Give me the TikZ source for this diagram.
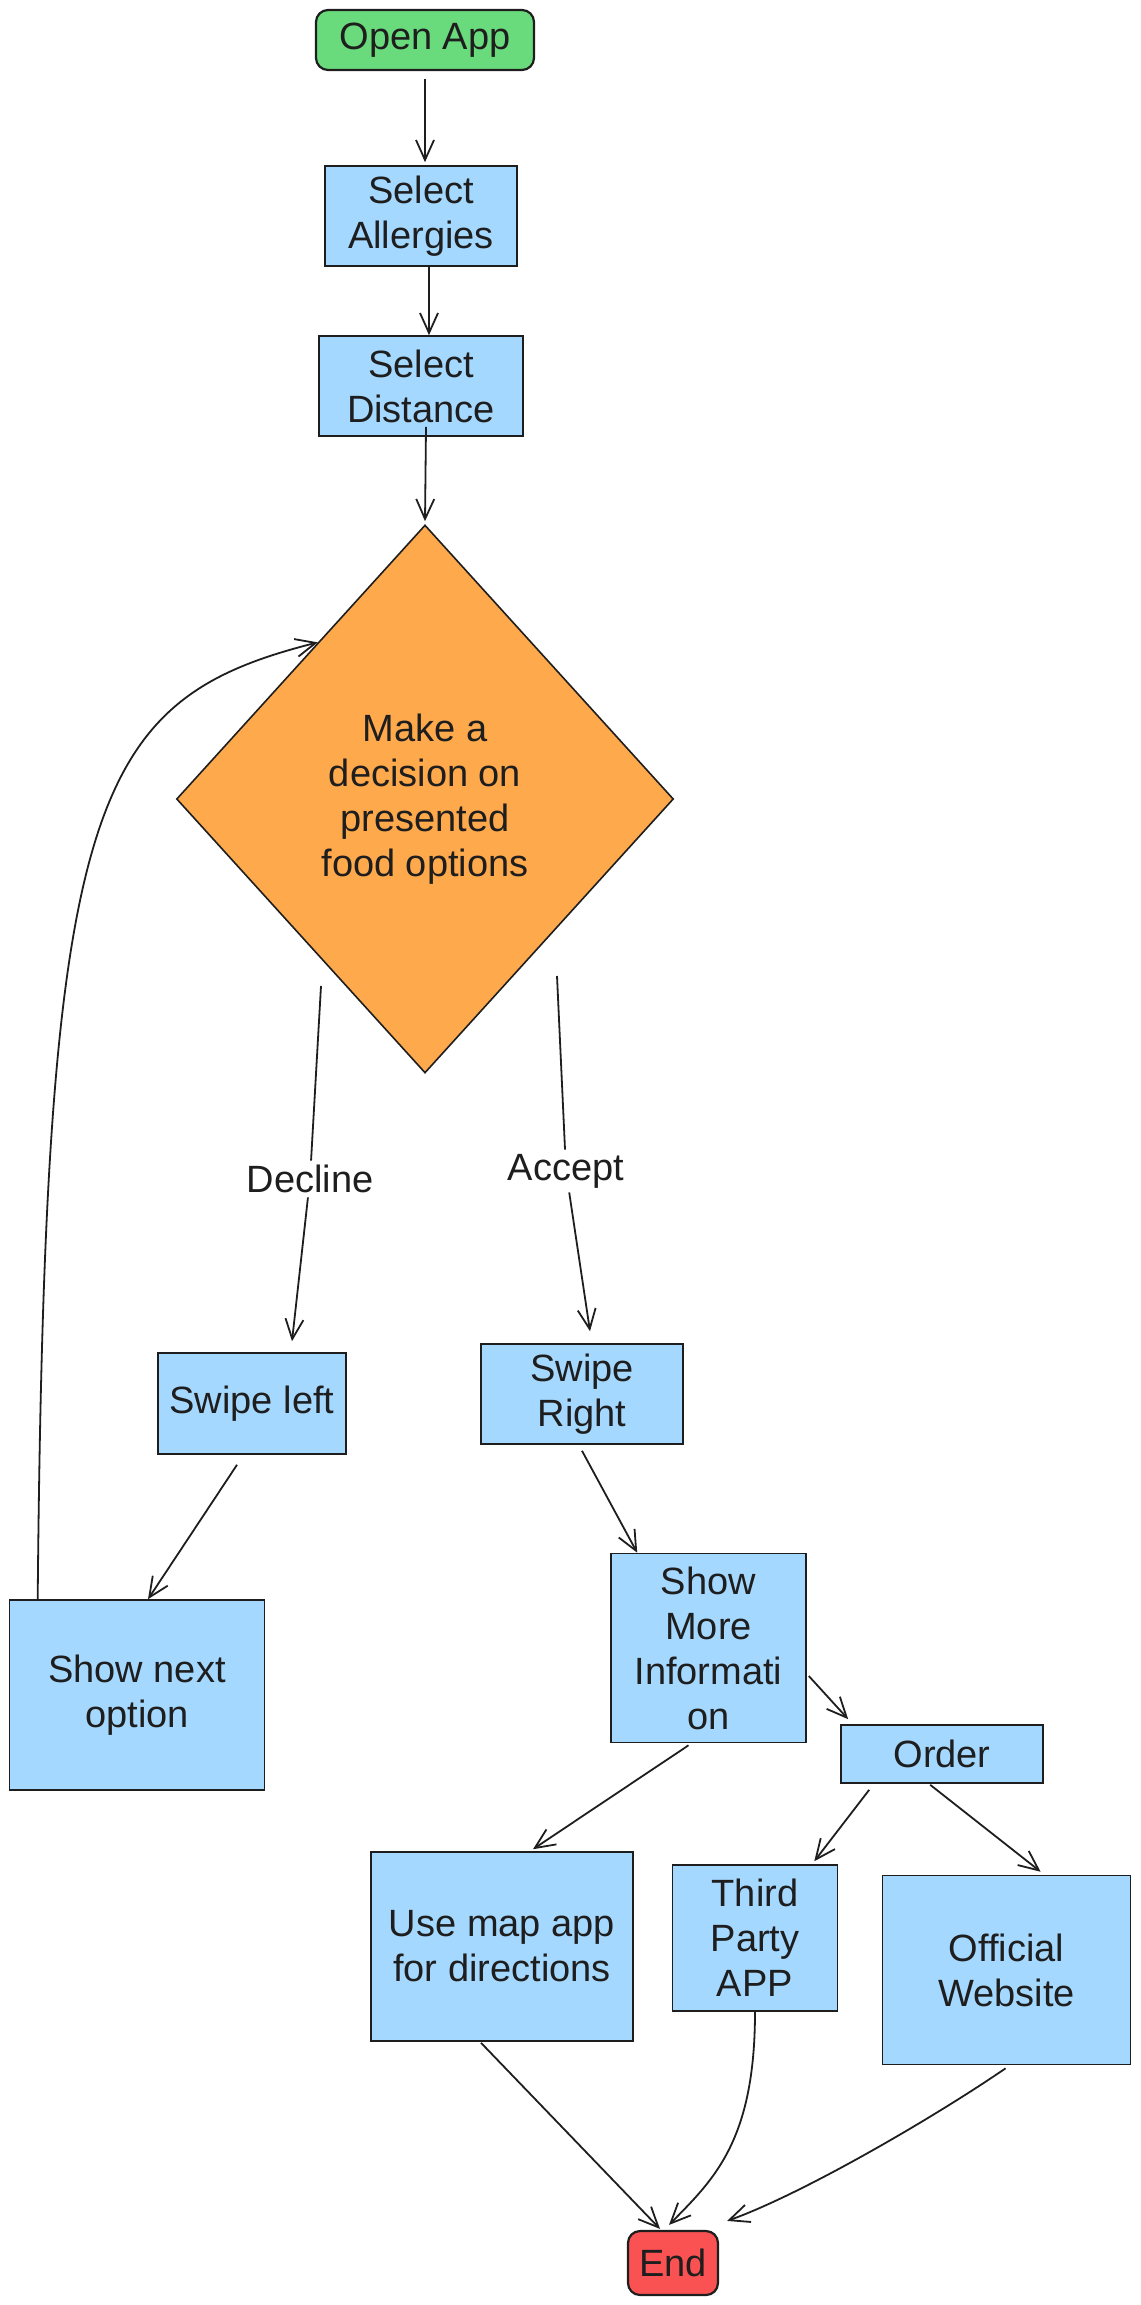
\documentclass[tikz,border=0pt]{standalone}
\usepackage{fontspec}
\setmainfont{Liberation Sans}
\usetikzlibrary{calc,positioning,arrows.meta,shapes.geometric}
\definecolor{vert}{HTML}{69DB7C}
\definecolor{bleu}{HTML}{A5D8FF}
\definecolor{orange}{HTML}{FFA94D}
\definecolor{rouge}{HTML}{FA5252}
\definecolor{trait}{HTML}{1E1E1E}

\begin{document}
\begin{tikzpicture}[x=0.5pt,y=-0.5pt]
    %
    % Styles
    %
    \tikzset{texte/.style={font=\fontsize{19}{22.5}\selectfont,align=center,text=trait,inner sep=0pt}};%
    \tikzset{boite/.style={texte,draw=trait,line width=0.8pt,fill=bleu}};%
    \tikzset{borne/.style={texte,draw=trait,line width=1.1pt,rounded corners=6pt}};%
    \tikzset{fleche/.style={-{Straight Barb[length=10pt,width=9pt]},draw=trait,line width=0.9pt}};%
    \tikzset{ligne/.style={draw=trait,line width=0.9pt}};%

    \useasboundingbox (0,0) rectangle (1140,2305);%

    %
    % Coordonnées
    %
    \coordinate (copen) at (425,40);%
    \coordinate (callerg) at (421,216);%
    \coordinate (cdist) at (421,386);%
    \coordinate (cdec) at (425,799);%
    \coordinate (cswl) at (252,1403.5);%
    \coordinate (cswr) at (582,1394);%
    \coordinate (csno) at (137,1695);%
    \coordinate (csmi) at (708.5,1648);%
    \coordinate (cord) at (942,1754);%
    \coordinate (cmap) at (502,1946.5);%
    \coordinate (ctpa) at (755,1938);%
    \coordinate (coff) at (1006.6,1970);%
    \coordinate (cfin) at (673,2263);%

    % Départs des choix
    \coordinate (decg) at (321,986);%
    \coordinate (decd) at (557,976);%

    %
    % Dessin
    %
    % Début et fin
    \node[borne,fill=vert,minimum width=109pt,minimum height=30pt] (open) at (copen) {Open App};%
    \node[borne,fill=rouge,minimum width=45pt,minimum height=32pt] (fin) at (cfin) {End};%

    % Réglages
    \node[boite,minimum width=96pt,minimum height=50pt] (allerg) at (callerg) {Select\\Allergies};%
    \node[boite,minimum width=102pt,minimum height=50pt] (dist) at (cdist) {Select\\Distance};%

    % Décision
    \node[texte,diamond,draw=trait,line width=0.8pt,fill=orange,minimum width=248.5pt,minimum height=274pt] (dec) at (cdec) {Make a\\decision on\\presented\\food options};%
    \node[texte,fill=white,inner sep=2pt] (lbldec) at (310,1179) {Decline};%
    \node[texte,fill=white,inner sep=2pt] (lblacc) at (566,1171) {Accept};%

    % Branches
    \node[boite,minimum width=94pt,minimum height=50.5pt] (swl) at (cswl) {Swipe left};%
    \node[boite,minimum width=101pt,minimum height=50pt] (swr) at (cswr) {Swipe\\Right};%
    \node[boite,minimum width=127.5pt,minimum height=95pt] (sno) at (csno) {Show next\\option};%
    \node[boite,minimum width=97.5pt,minimum height=94.5pt] (smi) at (csmi) {Show\\More\\Informati\\on};%
    \node[boite,minimum width=101pt,minimum height=29pt] (ord) at (cord) {Order};%
    \node[boite,minimum width=131pt,minimum height=94.5pt] (map) at (cmap) {Use map app\\for directions};%
    \node[boite,minimum width=82.5pt,minimum height=73pt] (tpa) at (ctpa) {Third\\Party\\APP};%
    \node[boite,minimum width=124pt,minimum height=94.5pt] (off) at (coff) {Official\\Website};%

    % Flèches principales
    \draw[fleche] ($(open.south)+(0,8)$) -- ($(allerg.north)+(4,-3)$);%
    \draw[fleche] ($(allerg.south)+(8,0)$) -- ($(dist.north)+(8,0)$);%
    \draw[fleche] ($(dist.south)+(5,-10)$) -- ($(dec.north)+(0,-3)$);%

    % Choix
    \draw[ligne] (decg) -- (lbldec);%
    \draw[fleche] (lbldec) -- ($(swl.north)+(40,-11)$);%
    \draw[ligne] (decd) -- (lblacc);%
    \draw[fleche] (lblacc) -- ($(swr.north)+(8,-12)$);%

    % Retour
    \draw[fleche] ($(sno.north west)+(29,0)$) .. controls (45,800) and (90,700) .. ($(dec.west)!0.57!(dec.north)$);%
    \draw[fleche] ($(swl.south)+(-15,10)$) -- ($(sno.north)+(11,0)$);%

    % Après acceptation
    \draw[fleche] ($(swr.south)+(0,6)$) -- ($(smi.north west)+(27,0)$);%
    \draw[fleche] ($(smi.east)+(2,28)$) -- ($(ord.north west)+(8,-5)$);%
    \draw[fleche] ($(smi.south)+(-20,2)$) -- ($(map.north)+(31,-2)$);%
    \draw[fleche] ($(ord.south west)+(29,6)$) -- ($(tpa.north east)+(-24,-3)$);%
    \draw[fleche] ($(ord.south west)+(90,1)$) -- ($(off.north)+(34,-3)$);%

    % Vers la fin
    \draw[fleche] ($(map.south)+(-21,1)$) -- ($(fin.north)+(-13,-1)$);%
    \draw[fleche] (tpa.south) .. controls ($(tpa.south)+(0,130)$) and ($(fin.north)+(40,-50)$) .. ($(fin.north)+(-4,-5)$);%
    \draw[fleche] ($(off.south)+(-1,3)$) .. controls (930,2120) and (800,2195) .. ($(fin.north east)+(8,-9)$);%

\end{tikzpicture}
\end{document}
